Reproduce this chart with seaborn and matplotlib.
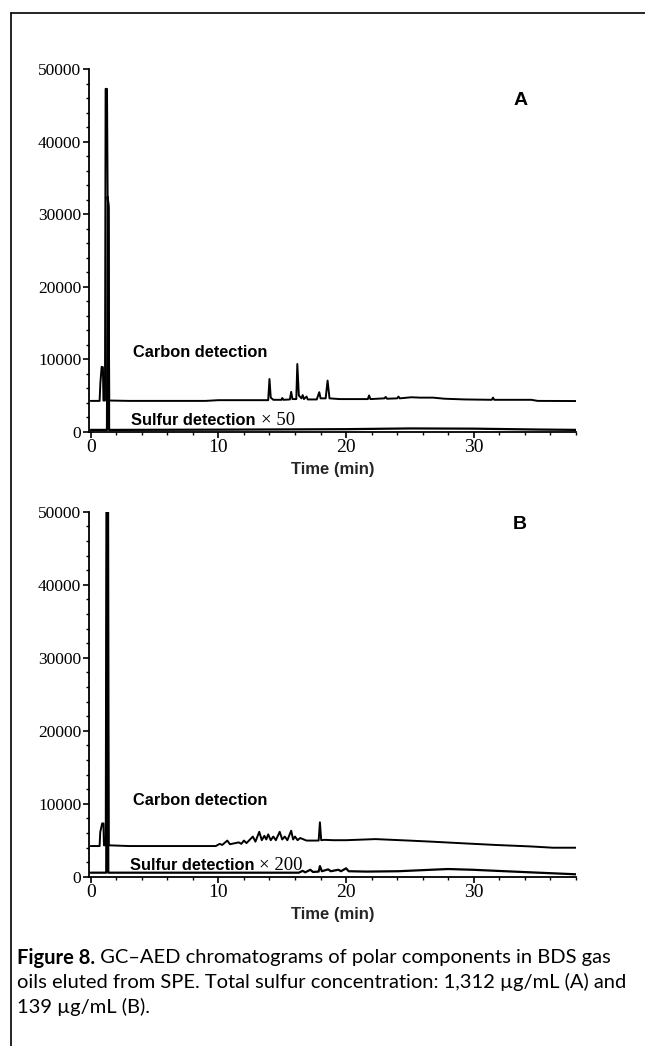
import numpy as np
import pandas as pd
import matplotlib
matplotlib.use("Agg")
import matplotlib.pyplot as plt
from matplotlib.lines import Line2D
import seaborn as sns

# ---------------- data ----------------
# Panel A, carbon channel (time in min, signal)
a_carbon_t = [0.0, 0.70, 0.76, 0.86, 0.96, 1.00, 1.12, 1.17, 1.28, 1.33, 1.40, 1.45,
              3.0, 9.0, 10.0, 13.9, 14.0, 14.1, 14.3, 14.95, 15.0, 15.1, 15.6, 15.7,
              15.8, 16.1, 16.18, 16.3, 16.5, 16.6, 16.7, 16.9, 17.0, 17.7, 17.9, 18.0,
              18.4, 18.55, 18.7, 19.5, 21.7, 21.8, 21.9, 23.0, 23.1, 23.2, 24.0, 24.1,
              24.2, 25.1, 25.8, 26.8, 27.7, 29.3, 31.4, 31.5, 31.6, 34.5, 35.0, 38.0]
a_carbon_v = [4250, 4250, 6700, 8950, 8900, 4300, 4300, 47300, 47300, 32400, 31000, 4300,
              4250, 4250, 4350, 4350, 7270, 4700, 4400, 4400, 4650, 4400, 4450, 5500,
              4500, 4500, 9340, 5000, 4600, 5050, 4500, 4850, 4450, 4450, 5450, 4600,
              4600, 7050, 4600, 4500, 4500, 5000, 4500, 4600, 4800, 4550, 4600, 4850,
              4600, 4750, 4700, 4700, 4550, 4450, 4400, 4700, 4400, 4400, 4250, 4230]

# Panel A, sulfur channel x 50
a_sulfur_t = [0.0, 1.28, 1.33, 1.40, 1.44, 2.0, 10.0, 20.0, 25.0, 30.0, 35.0, 38.0]
a_sulfur_v = [250, 250, 32400, 31000, 250, 250, 280, 350, 450, 420, 300, 250]

# Panel B, carbon channel
b_carbon_t = [0.0, 0.70, 0.75, 0.90, 1.00, 1.04, 1.18, 1.23, 1.37, 1.42, 3.0, 9.8,
              10.1, 10.3, 10.7, 10.9, 11.6, 11.8, 12.0, 12.2, 12.7, 12.9, 13.2, 13.4,
              13.6, 13.75, 13.9, 14.1, 14.3, 14.5, 14.8, 15.0, 15.2, 15.4, 15.7, 15.85,
              16.0, 16.2, 16.4, 16.9, 17.4, 17.85, 17.95, 18.05, 18.3, 19.0, 20.0, 22.3,
              24.9, 26.7, 29.2, 31.8, 34.4, 36.2, 38.0]
b_carbon_v = [4200, 4200, 6100, 7300, 7300, 4300, 4300, 52000, 52000, 4300, 4200, 4200,
              4500, 4350, 4950, 4450, 4700, 4500, 4950, 4600, 5500, 4800, 6150, 5000,
              5600, 5100, 5800, 5000, 5500, 5000, 6150, 5100, 5500, 5000, 6300, 5100,
              5500, 5000, 5300, 4950, 4950, 4950, 7450, 5000, 5050, 5000, 5000, 5150,
              4950, 4800, 4570, 4340, 4150, 3970, 3970]

# Panel B, sulfur channel x 200
b_sulfur_t = [0.0, 1.22, 1.30, 1.38, 16.3, 16.6, 16.8, 17.2, 17.4, 17.85, 17.95, 18.1,
              18.6, 18.8, 19.4, 19.6, 20.0, 20.2, 21.6, 24.1, 27.3, 28.0, 29.9, 31.8,
              34.4, 38.0]
b_sulfur_v = [550, 550, 52000, 550, 550, 800, 600, 950, 650, 700, 1450, 750,
              1000, 750, 950, 750, 1150, 750, 700, 750, 1000, 1050, 950, 800,
              600, 330]

x_ticks = [0, 10, 20, 30]
y_ticks = [0, 10000, 20000, 30000, 40000, 50000]
panel_letters = ["A", "B"]
sulfur_factors = ["× 50", "× 200"]
carbon_label = "Carbon detection"
sulfur_label = "Sulfur detection"
x_label = "Time (min)"
caption_bold = "Figure 8."
caption_rest = " GC–AED chromatograms of polar components in BDS gas"
caption_line2 = "oils eluted from SPE. Total sulfur concentration: 1,312 µg/mL (A) and"
caption_line3 = "139 µg/mL (B)."

# ---------------- styling ----------------
sns.set_theme(style="ticks")
plt.rcParams["font.family"] = ["Liberation Sans", "DejaVu Sans"]
plt.rcParams["axes.edgecolor"] = "black"
plt.rcParams["xtick.color"] = "black"
plt.rcParams["ytick.color"] = "black"
plt.rcParams["text.color"] = "black"

W, H = 645, 1046
fig = plt.figure(figsize=(W / 100, H / 100), dpi=100)
fig.patch.set_facecolor("white")


def px_rect(left, top, right, bottom):
    return [left / W, 1 - bottom / H, (right - left) / W, (bottom - top) / H]


ax_a = fig.add_axes(px_rect(89, 69.3, 576, 431.7))
ax_b = fig.add_axes(px_rect(89, 511.7, 576, 876.7))

panels = [
    (ax_a, a_carbon_t, a_carbon_v, a_sulfur_t, a_sulfur_v),
    (ax_b, b_carbon_t, b_carbon_v, b_sulfur_t, b_sulfur_v),
]

label_pos = [
    dict(letter=(33.66, 45760), carbon=(3.34, 10300), sulfur=(3.16, 925)),
    dict(letter=(33.6, 48180), carbon=(3.34, 9820), sulfur=(3.08, 918)),
]

sulfur_texts = []
for i, (ax, ct, cv, st, sv) in enumerate(panels):
    ax.set_facecolor("white")
    dfc = pd.DataFrame({"t": ct, "v": cv})
    dfs = pd.DataFrame({"t": st, "v": sv})
    sns.lineplot(data=dfc, x="t", y="v", ax=ax, color="black", lw=1.4,
                 estimator=None, sort=False)
    sns.lineplot(data=dfs, x="t", y="v", ax=ax, color="black", lw=1.6,
                 estimator=None, sort=False)
    ax.set_xlim(-0.13, 38.0)
    ax.set_ylim(0, 50000)
    sns.despine(ax=ax)
    ax.spines["left"].set_linewidth(1.3)
    ax.spines["bottom"].set_linewidth(1.3)
    ax.set_xticks(x_ticks)
    ax.set_xticks(np.arange(0, 38.1, 2), minor=True)
    ax.set_yticks(y_ticks)
    ax.set_yticks(np.arange(0, 50001, 2000), minor=True)
    ax.set_xticklabels([str(v) for v in x_ticks], family="Liberation Serif", fontsize=14)
    ax.set_yticklabels([str(v) for v in y_ticks], family="Liberation Serif", fontsize=12.5)
    ax.tick_params(which="major", length=4, width=1.2, direction="out", pad=1.5)
    ax.tick_params(which="minor", length=2, width=1.0, direction="out")
    ax.set_xlabel(x_label, fontweight="bold", fontsize=12, labelpad=4)
    ax.set_ylabel("")
    ax.grid(False)

    lp = label_pos[i]
    ax.text(*lp["letter"], panel_letters[i], fontsize=14, fontweight="bold",
            ha="center", va="center")
    ax.text(*lp["carbon"], carbon_label, fontsize=11.8, fontweight="bold",
            ha="left", va="baseline")
    st_txt = ax.text(*lp["sulfur"], sulfur_label, fontsize=11.8, fontweight="bold",
                     ha="left", va="baseline")
    sulfur_texts.append((ax, st_txt, lp["sulfur"][1], sulfur_factors[i]))

# figure frame (top and left edges of the printed box)
fig.add_artist(Line2D([11 / W, 1.0], [1 - 13 / H, 1 - 13 / H], color="black", lw=1.2,
                      transform=fig.transFigure))
fig.add_artist(Line2D([11 / W, 11 / W], [0.0, 1 - 13 / H], color="black", lw=1.2,
                      transform=fig.transFigure))

fig.canvas.draw()
renderer = fig.canvas.get_renderer()

# "× 50" / "× 200" in serif after the bold sans label
for ax, t, yb, fac in sulfur_texts:
    bb = t.get_window_extent(renderer)
    x_disp = bb.x1 + 5
    x_data = ax.transData.inverted().transform((x_disp, 0))[0]
    ax.text(x_data, yb, fac, family="Liberation Serif", fontsize=13.5,
            ha="left", va="baseline")

# caption
cap_family = ["Lato", "DejaVu Sans"]
left_px = 16.7
target_w = 595.0
fs = 12.5
probe = fig.text(0, 0, caption_bold + caption_rest, family=cap_family, fontsize=fs)
w = probe.get_window_extent(renderer).width
probe.remove()
fs = fs * target_w / w

base1, base2, base3 = 963.5, 988.0, 1012.5
t1 = fig.text(left_px / W, 1 - base1 / H, caption_bold, family=cap_family,
              fontsize=fs, fontweight="bold", va="baseline", ha="left")
bb1 = t1.get_window_extent(renderer)
fig.text(bb1.x1 / W, 1 - base1 / H, caption_rest, family=cap_family,
         fontsize=fs, va="baseline", ha="left")
fig.text(left_px / W, 1 - base2 / H, caption_line2, family=cap_family,
         fontsize=fs, va="baseline", ha="left")
fig.text(left_px / W, 1 - base3 / H, caption_line3, family=cap_family,
         fontsize=fs, va="baseline", ha="left")

fig.savefig("out.png", dpi=100, facecolor="white")
